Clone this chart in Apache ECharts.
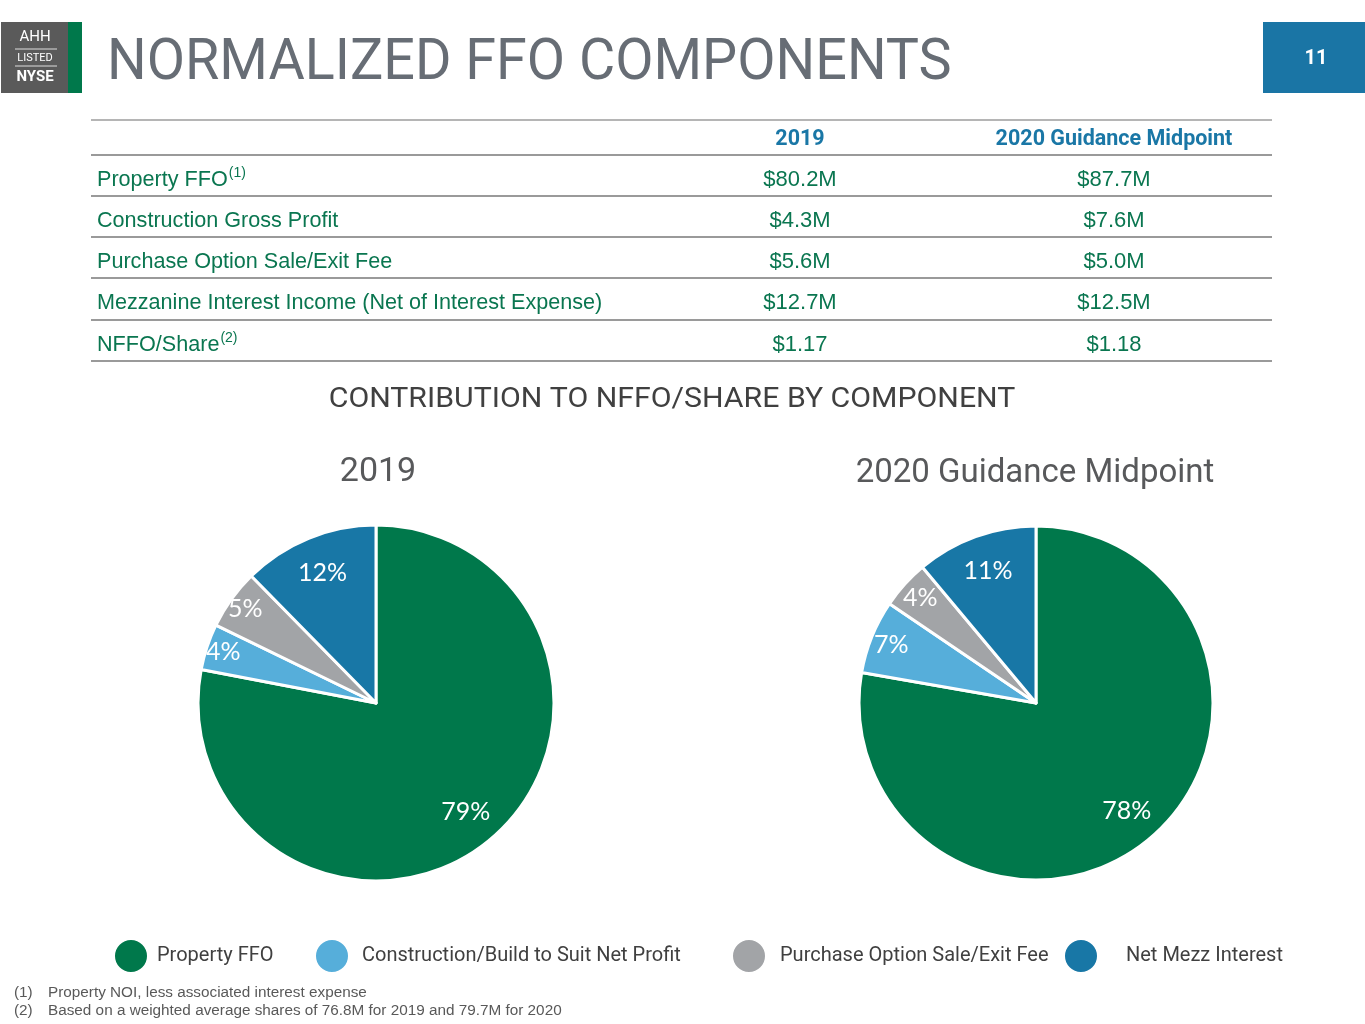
<!DOCTYPE html>
<html><head><meta charset="utf-8">
<script src="https://cdn.jsdelivr.net/npm/echarts@6/dist/echarts.min.js"></script>
<style>html,body{margin:0;padding:0;background:#fff}#c{width:1365px;height:1024px}</style>
</head><body><div id="c"></div>
<script>
// ---- data ----
const categories = ['Property FFO', 'Construction/Build to Suit Net Profit', 'Purchase Option Sale/Exit Fee', 'Net Mezz Interest'];
// component amounts ($M) that size the slices
const amounts2019 = [80.2, 4.3, 5.6, 12.7];
const amounts2020 = [87.7, 7.6, 5.0, 12.5];
// printed percentage labels
const share2019 = [79, 4, 5, 12];
const share2020 = [78, 7, 4, 11];
const pieTitles = ['2019', '2020 Guidance Midpoint'];
const tableHeaders = ['2019', '2020 Guidance Midpoint'];
const rowLabels = ['Property FFO', 'Construction Gross Profit', 'Purchase Option Sale/Exit Fee', 'Mezzanine Interest Income (Net of Interest Expense)', 'NFFO/Share'];
const rowNotes = ['(1)', '', '', '', '(2)'];
const values2019 = ['$80.2M', '$4.3M', '$5.6M', '$12.7M', '$1.17'];
const values2020 = ['$87.7M', '$7.6M', '$5.0M', '$12.5M', '$1.18'];
const footnotes = [['(1)', 'Property NOI, less associated interest expense'], ['(2)', 'Based on a weighted average shares of 76.8M for 2019 and 79.7M for 2020']];
const pageTitle = 'NORMALIZED FFO COMPONENTS';
const subTitle = 'CONTRIBUTION TO NFFO/SHARE BY COMPONENT';
const pageNumber = '11';

// ---- style ----
const colors = ['#00784B', '#56AEDA', '#A2A4A7', '#1877A6'];
const green = '#0A7650';
const blue = '#1A77A6';

const chart = echarts.init(document.getElementById('c'));

const g = [];
// logo
g.push({type:'rect', shape:{x:1, y:22, width:68, height:71}, style:{fill:'#5A5A5A'}});
g.push({type:'rect', shape:{x:68, y:22, width:14, height:71}, style:{fill:'#00784B'}});
g.push({type:'text', x:35, y:37, style:{text:'AHH', fill:'#fff', font:'15px Roboto', textAlign:'center', textVerticalAlign:'middle'}});
g.push({type:'line', shape:{x1:15, y1:49, x2:57, y2:49}, style:{stroke:'#ddd', lineWidth:1}});
g.push({type:'text', x:35, y:58, style:{text:'LISTED', fill:'#fff', font:'11px Roboto', textAlign:'center', textVerticalAlign:'middle'}});
g.push({type:'line', shape:{x1:15, y1:66, x2:57, y2:66}, style:{stroke:'#ddd', lineWidth:1}});
g.push({type:'text', x:35, y:77, style:{text:'NYSE', fill:'#fff', font:'bold 15px Roboto', textAlign:'center', textVerticalAlign:'middle'}});
// title
g.push({type:'text', x:107, y:64, scaleX:0.96, style:{text:pageTitle, fill:'#676D75', font:'58px Roboto', textVerticalAlign:'middle'}});
// page number
g.push({type:'rect', shape:{x:1263, y:22, width:102, height:71}, style:{fill:'#1A75A5'}});
g.push({type:'text', x:1316, y:59, style:{text:pageNumber, fill:'#fff', font:'bold 20px Roboto', textAlign:'center', textVerticalAlign:'middle'}});

// table
const lineYs = [120, 155, 196, 237, 278, 320, 361];
lineYs.forEach((y, i) => g.push({type:'line', shape:{x1:91, y1:y, x2:1272, y2:y}, style:{stroke: i === 0 ? '#B5B5B5' : '#9A9A9A', lineWidth:2}}));
const colX = [800, 1114];
tableHeaders.forEach((h, i) => g.push({type:'text', x:colX[i], y:140, style:{text:h, fill:blue, font:'bold 21.5px Roboto', textAlign:'center', textVerticalAlign:'middle'}}));
rowLabels.forEach((lab, i) => {
  const y = lineYs[i + 1] + 25;
  g.push({type:'text', x:97, y:y, style:{
    text: rowNotes[i] ? '{t|' + lab + '}{s|' + rowNotes[i] + '}' : '{t|' + lab + '}',
    font:'21.6px "Liberation Sans"',
    textVerticalAlign:'middle',
    rich:{
      t:{font:'21.6px "Liberation Sans"', fontSize:21.6, fontFamily:'"Liberation Sans"', fill:green, lineHeight:28},
      s:{font:'14px "Liberation Sans"', fontSize:14, fontFamily:'"Liberation Sans"', fill:green, verticalAlign:'top', lineHeight:28, padding:[0,0,0,1]}
    }
  }});
  g.push({type:'text', x:colX[0], y:y, style:{text:values2019[i], fill:green, font:'22px "Liberation Sans"', textAlign:'center', textVerticalAlign:'middle'}});
  g.push({type:'text', x:colX[1], y:y, style:{text:values2020[i], fill:green, font:'22px "Liberation Sans"', textAlign:'center', textVerticalAlign:'middle'}});
});
// subtitle
g.push({type:'text', x:672, y:400, scaleX:1.08, style:{text:subTitle, fill:'#404040', font:'28px Roboto', textAlign:'center', textVerticalAlign:'middle'}});
// pie titles
const pieCenters = [[376, 703], [1036, 703]];
const pieRadius = [178, 177];
g.push({type:'text', x:378, y:472, style:{text:pieTitles[0], fill:'#58595B', font:'34px Roboto', textAlign:'center', textVerticalAlign:'middle'}});
g.push({type:'text', x:1035, y:474, style:{text:pieTitles[1], fill:'#58595B', font:'33px Roboto', textAlign:'center', textVerticalAlign:'middle'}});
// footnotes
footnotes.forEach((f, i) => {
  const y = 993 + i * 18;
  g.push({type:'text', x:14, y:y, style:{text:f[0], fill:'#595959', font:'15.3px "Liberation Sans"', textVerticalAlign:'middle'}});
  g.push({type:'text', x:48, y:y, style:{text:f[1], fill:'#595959', font:'15.3px "Liberation Sans"', textVerticalAlign:'middle'}});
});

function pieSeries(vals, shares, center, r, bigMid, smallMid) {
  const data = categories.map((n, i) => ({name:n, value:vals[i], share:shares[i]}));
  const base = {type:'pie', center:center, startAngle:90, clockwise:true, emphasis:{disabled:true}, labelLine:{show:false}, avoidLabelOverlap:false};
  const lbl = {show:true, position:'inside', formatter: p => shares[p.dataIndex] + '%', color:'#fff', fontFamily:'Lato', fontSize:25};
  return [
    Object.assign({}, base, {radius:r, data:data.map(d => ({name:d.name, value:d.value})), label:{show:false}, itemStyle:{borderColor:'#fff', borderWidth:3},
      color:colors}),
    Object.assign({}, base, {radius:[2 * bigMid - r, r], silent:true, z:3,
      data:data.map(d => ({name:d.name, value:d.value, label:{show:d.share >= 10}})),
      itemStyle:{color:'rgba(0,0,0,0)', borderWidth:0}, label:lbl}),
    Object.assign({}, base, {radius:[2 * smallMid - r, r], silent:true, z:3,
      data:data.map(d => ({name:d.name, value:d.value, label:{show:d.share < 10}})),
      itemStyle:{color:'rgba(0,0,0,0)', borderWidth:0}, label:lbl})
  ];
}

const legendLefts = [113, 314, 731, 1063];
const legendPads = [4, 8, 9, 23];

chart.setOption({
  animation:false,
  legend: categories.map((n, i) => ({
    data:[{name:n, itemStyle:{color:colors[i]}}], left:legendLefts[i], top:938, padding:0,
    icon:'circle', itemWidth:34, itemHeight:34, selectedMode:false,
    textStyle:{fontSize:20, color:'#404040', fontFamily:'Roboto', padding:[3, 0, 0, legendPads[i]]}
  })),
  series: [].concat(
    pieSeries(amounts2019, share2019, pieCenters[0], pieRadius[0], 138, 158),
    pieSeries(amounts2020, share2020, pieCenters[1], pieRadius[1], 138, 153)
  ),
  graphic: g
});
</script></body></html>
